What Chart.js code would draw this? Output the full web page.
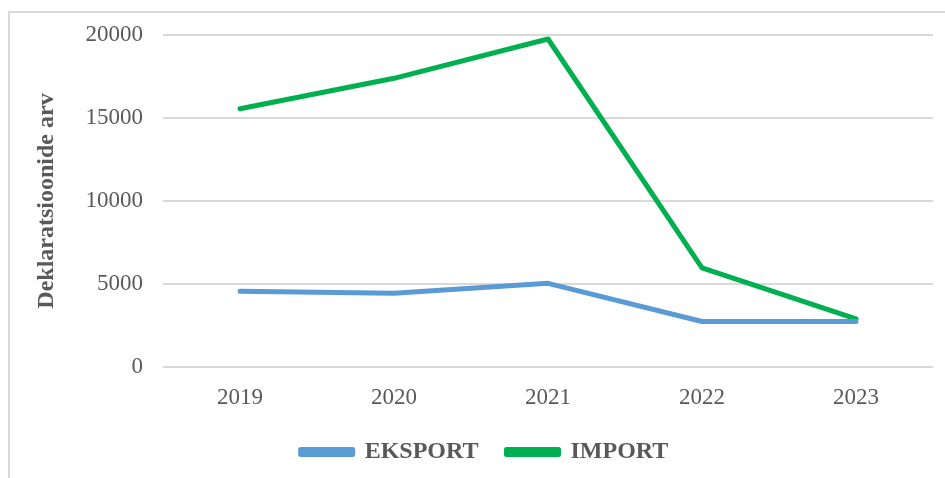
<!DOCTYPE html>
<html>
<head>
<meta charset="utf-8">
<script src="https://cdn.jsdelivr.net/npm/chart.js@4.4.0/dist/chart.umd.min.js"></script>
<style>
  html, body { margin: 0; padding: 0; background: #fff; }
  #wrap { position: relative; width: 945px; height: 478px; overflow: hidden; }
  #frame { position: absolute; left: 8px; top: 11px; width: 960px; height: 500px;
           border-left: 2px solid #d9d9d9; border-top: 2px solid #d9d9d9; box-sizing: border-box; }
  canvas { position: absolute; left: 0; top: 0; }
</style>
</head>
<body>
<div id="wrap">
  <div id="frame"></div>
  <canvas id="c" width="945" height="478"></canvas>
</div>
<script>
const years = ['2019', '2020', '2021', '2022', '2023'];
const eksport = [4560, 4440, 5040, 2740, 2740];
const importValues = [15560, 17390, 19760, 5970, 2900];
const yTicks = [0, 5000, 10000, 15000, 20000];
const yTitle = 'Deklaratsioonide arv';

const serif = "'Liberation Serif', 'Times New Roman', serif";
const textColor = '#595959';

const legendShift = {
  id: 'legendShift',
  beforeDraw(chart) {
    const lg = chart.legend;
    if (lg && !lg._shifted) { lg.left += 14; lg.right += 14; lg._shifted = true; }
  }
};

new Chart(document.getElementById('c'), {
  type: 'line',
  data: {
    labels: years,
    datasets: [
      { label: 'EKSPORT', data: eksport, borderColor: '#5b9bd5', backgroundColor: '#5b9bd5',
        borderWidth: 5, pointRadius: 0, tension: 0, borderCapStyle: 'round', borderJoinStyle: 'round' },
      { label: 'IMPORT', data: importValues, borderColor: '#00b050', backgroundColor: '#00b050',
        borderWidth: 5, pointRadius: 0, tension: 0, borderCapStyle: 'round', borderJoinStyle: 'round' }
    ]
  },
  plugins: [legendShift],
  options: {
    responsive: false,
    animation: false,
    layout: { padding: { left: 8, right: 12, top: 35, bottom: 4 } },
    plugins: {
      tooltip: { enabled: false },
      legend: {
        position: 'bottom',
        labels: {
          font: { family: serif, size: 24, weight: 'bold' },
          color: textColor,
          boxWidth: 52,
          boxHeight: 5,
          padding: 28
        }
      }
    },
    scales: {
      x: {
        offset: true,
        grid: { display: false, drawTicks: false },
        border: { display: false },
        ticks: { font: { family: serif, size: 23 }, color: textColor, padding: 17, maxRotation: 0 },
        afterFit: s => { s.height = 45; }
      },
      y: {
        min: 0, max: 20000,
        afterBuildTicks: s => { s.ticks = yTicks.map(v => ({ value: v })); },
        grid: { color: '#d9d9d9', lineWidth: 2, drawTicks: false },
        border: { display: false },
        ticks: { font: { family: serif, size: 23 }, color: textColor, padding: 20,
                 callback: v => String(v) },
        title: { display: true, text: yTitle, font: { family: serif, size: 24, weight: 'bold' },
                 color: textColor, padding: { top: 24, bottom: 0 } },
        afterFit: s => { s.width = 155; }
      }
    }
  }
});
</script>
</body>
</html>
